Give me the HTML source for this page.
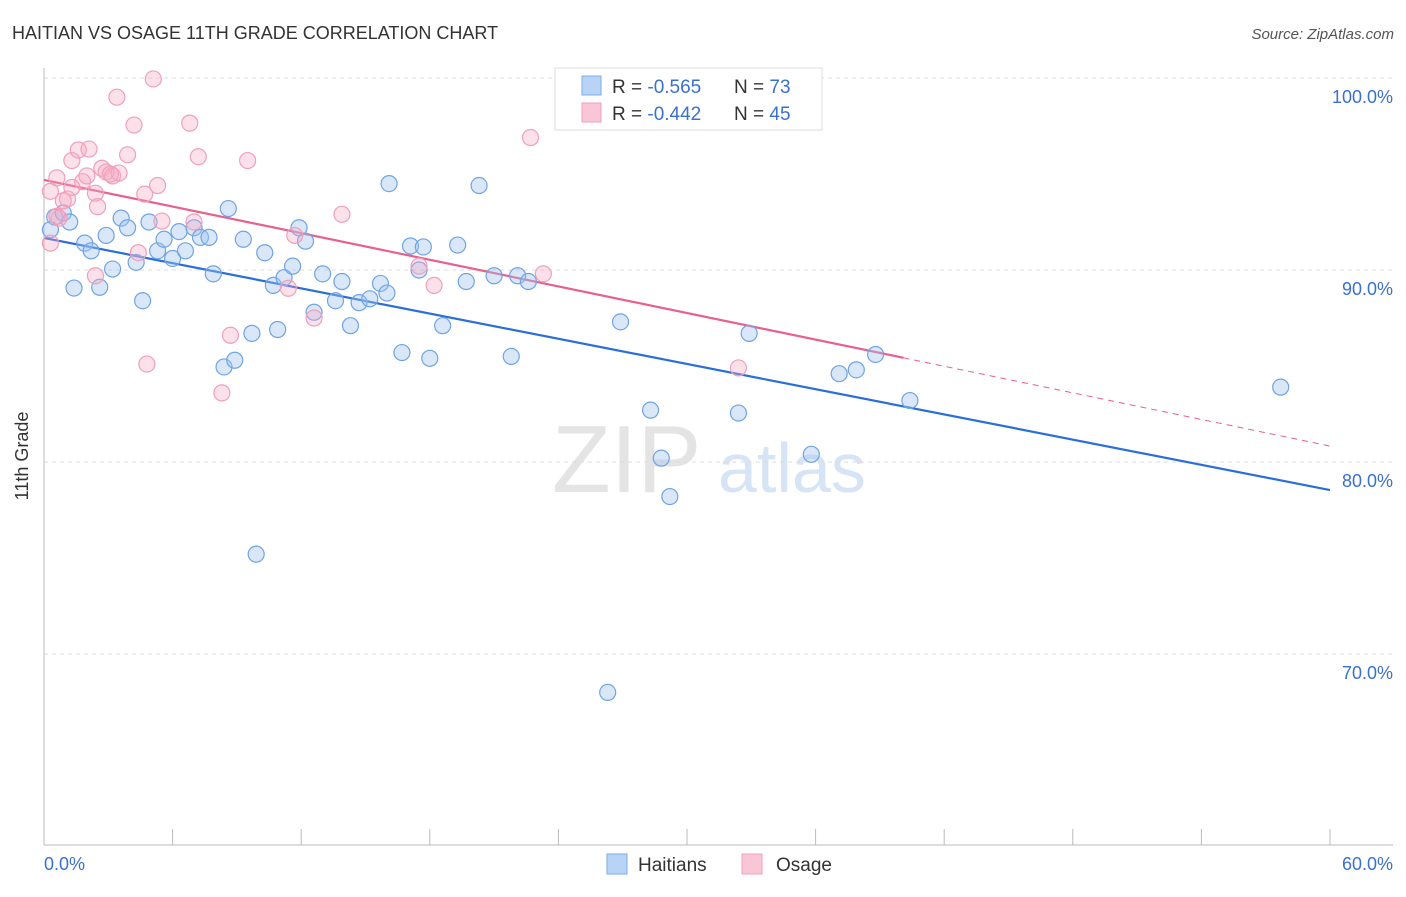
<!DOCTYPE html>
<html><head><meta charset="utf-8"><style>
body{margin:0;background:#fff;font-family:"Liberation Sans",sans-serif;}
svg text{font-family:"Liberation Sans",sans-serif;}
</style></head><body>
<svg id="chart" width="1406" height="892">
<text x="12" y="39" font-size="18" fill="#333">HAITIAN VS OSAGE 11TH GRADE CORRELATION CHART</text>
<text x="1394" y="39" font-size="15" fill="#555" font-style="italic" text-anchor="end">Source: ZipAtlas.com</text>
<g>
<text x="552" y="492" font-size="96" font-family="Liberation Serif" fill="#e4e4e4">ZIP</text>
<text x="718" y="492" font-size="70" fill="#d6e4f5">atlas</text>
</g>
<g id="grid"></g>
<line x1="44" y1="68" x2="44" y2="845" stroke="#bbb"/>
<line x1="44" y1="845" x2="1393" y2="845" stroke="#bbb"/>
<text x="28" y="456" font-size="18" fill="#333" transform="rotate(-90 28 456)" text-anchor="middle">11th Grade</text>
<text x="44" y="870" font-size="18" fill="#3a70d0">0.0%</text>
<text x="1393" y="870" font-size="18" fill="#3a70d0" text-anchor="end">60.0%</text>
<g id="lines"></g>
<g id="points"></g>
<g>
<rect x="555" y="68" width="267" height="62" fill="#fff" stroke="#ddd"/>
<rect x="582" y="76" width="19" height="19" fill="#b8d3f5" stroke="#7aaee8"/>
<rect x="582" y="103" width="19" height="19" fill="#f9c6d6" stroke="#f0a0bb"/>
<text x="612" y="93" font-size="19" fill="#333">R = <tspan fill="#3a70d0">-0.565</tspan></text>
<text x="734" y="93" font-size="19" fill="#333">N = <tspan fill="#3a70d0">73</tspan></text>
<text x="612" y="120" font-size="19" fill="#333">R = <tspan fill="#3a70d0">-0.442</tspan></text>
<text x="734" y="120" font-size="19" fill="#333">N = <tspan fill="#3a70d0">45</tspan></text>
</g>
<g>
<rect x="607" y="854" width="20" height="20" fill="#b8d3f5" stroke="#7aaee8"/>
<text x="638" y="871" font-size="19" fill="#333">Haitians</text>
<rect x="742" y="854" width="20" height="20" fill="#f9c6d6" stroke="#f0a0bb"/>
<text x="776" y="871" font-size="19" fill="#333">Osage</text>
</g>
</svg>
<script>
const yTicks=[100,90,80,70];
const yTickLabels=["100.0%","90.0%","80.0%","70.0%"];
const xTicks=[0,6,12,18,24,30,36,42,48,54,60];
const haitianX=[0.5,0.9,1.2,1.9,2.2,1.4,2.6,3.2,2.9,3.6,3.9,4.3,4.6,4.9,5.3,5.6,6.0,6.3,6.6,7.0,7.3,7.7,7.9,8.6,8.4,8.9,9.3,9.7,9.9,10.3,10.7,10.9,11.2,11.6,11.9,12.2,12.6,13.0,13.6,13.9,14.3,14.7,15.2,15.7,16.0,16.1,16.7,17.1,17.5,17.7,18.0,18.6,19.3,19.7,20.3,21.0,21.8,22.1,22.6,26.3,26.9,28.3,28.8,29.2,32.4,32.9,35.8,37.1,37.9,38.8,40.4,57.7,0.3];
const haitianY=[92.76,92.97,92.5,91.4,91.0,89.06,89.1,90.05,91.8,92.7,92.2,90.4,88.4,92.5,91.0,91.6,90.6,92.0,91.0,92.2,91.7,91.7,89.8,93.2,84.95,85.3,91.6,86.7,75.2,90.9,89.2,86.9,89.6,90.2,92.2,91.5,87.8,89.8,88.4,89.4,87.1,88.3,88.5,89.3,88.8,94.5,85.7,91.25,90.0,91.2,85.4,87.1,91.3,89.4,94.4,89.7,85.5,89.7,89.4,68.0,87.3,82.7,80.2,78.2,82.55,86.7,80.4,84.6,84.8,85.6,83.2,83.9,92.1];
const osageX=[0.3,0.6,0.7,0.9,1.1,1.3,1.6,1.8,2.0,2.1,2.4,2.5,2.4,2.7,2.9,3.2,3.4,3.5,3.9,4.2,4.4,4.7,4.8,5.1,5.3,5.5,6.8,7.0,7.2,8.3,8.7,9.5,11.4,11.7,12.6,13.9,17.5,18.2,22.7,23.3,32.4,0.3,1.3,3.1,0.6];
const osageY=[94.1,94.8,92.7,93.6,93.7,95.7,96.25,94.6,94.9,96.3,94.0,93.3,89.7,95.3,95.1,94.9,99.0,95.05,96.0,97.55,90.9,93.95,85.1,99.95,94.4,92.55,97.65,92.5,95.9,83.6,86.6,95.7,89.05,91.8,87.5,92.9,90.2,89.2,96.9,89.8,84.9,91.4,94.3,95.0,92.8];
const haitianTrend=[91.67,78.54]; // at x=0 and x=60
const osageTrend=[94.69,80.83]; const osageSolidEnd=40.1;
const NS="http://www.w3.org/2000/svg";
const sx=v=>44+v*21.433, sy=v=>78+(100-v)*19.2;
function mk(tag,attrs,parent){const e=document.createElementNS(NS,tag);for(const k in attrs)e.setAttribute(k,attrs[k]);parent.appendChild(e);return e;}
const grid=document.getElementById('grid');
yTicks.forEach((t,i)=>{
 const l=mk('line',{x1:44,x2:1393,y1:sy(t),y2:sy(t),stroke:'#ddd','stroke-dasharray':'4,4'},grid);
 
 
 const tx=mk('text',{x:1393,y:sy(t)+25,'font-size':18,fill:'#3a70d0','text-anchor':'end'},grid);
 tx.textContent=yTickLabels[i];
 
 
});
xTicks.forEach(t=>{
 const l=mk('line',{x1:sx(t),x2:sx(t),y1:829,y2:845,stroke:'#bbb'},grid);
 
 
});
const pts=document.getElementById('points');
haitianX.forEach((x,i)=>{
 const c=mk('circle',{cx:sx(x),cy:sy(haitianY[i]),r:8,fill:'rgba(160,196,240,0.4)',stroke:'#6fa4e6','stroke-width':1.2},pts);
 
 
});
osageX.forEach((x,i)=>{
 const c=mk('circle',{cx:sx(x),cy:sy(osageY[i]),r:8,fill:'rgba(245,170,195,0.35)',stroke:'#f0a0bb','stroke-width':1.2},pts);
 
 
});
const lines=document.getElementById('lines');
const b=mk('line',{x1:sx(0),y1:sy(haitianTrend[0]),x2:sx(60),y2:sy(haitianTrend[1]),stroke:'#2a6fd8','stroke-width':2.2},lines);


const py=x=>osageTrend[0]+(osageTrend[1]-osageTrend[0])*x/60;
const p=mk('line',{x1:sx(0),y1:sy(py(0)),x2:sx(osageSolidEnd),y2:sy(py(osageSolidEnd)),stroke:'#e8608c','stroke-width':2.2},lines);


const pd=mk('line',{x1:sx(osageSolidEnd),y1:sy(py(osageSolidEnd)),x2:sx(60),y2:sy(py(60)),stroke:'#e8608c','stroke-width':1,'stroke-dasharray':'6,5'},lines);


</script>
</body></html>
